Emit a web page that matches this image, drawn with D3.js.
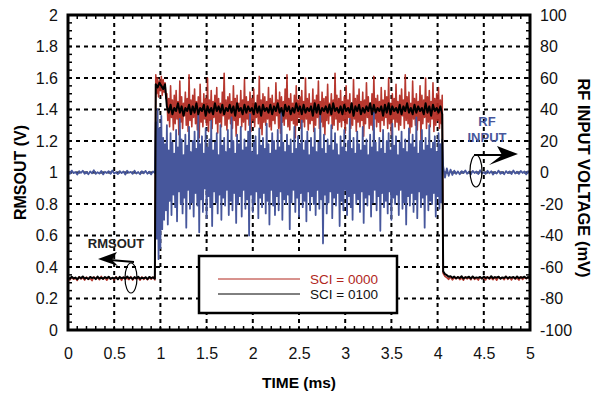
<!DOCTYPE html>
<html>
<head>
<meta charset="utf-8">
<script src="https://cdn.jsdelivr.net/npm/d3@7"></script>
<style>
  body { margin: 0; background: #fff; }
  svg { display: block; font-family: "Liberation Sans", Arial, Helvetica, sans-serif; }
</style>
</head>
<body>
<svg id="chart" width="592" height="396"></svg>
<script>
var width = 592, height = 396

// tick labels
var timeTicks = [0, 0.5, 1, 1.5, 2, 2.5, 3, 3.5, 4, 4.5, 5]
var rmsTicks = [0, 0.2, 0.4, 0.6, 0.8, 1, 1.2, 1.4, 1.6, 1.8, 2]
var rfTicks = [-100, -80, -60, -40, -20, 0, 20, 40, 60, 80, 100]

// time spans (ms): idle before burst, burst, idle after burst
var spanBefore = [0, 0.94]
var spanBurst = [0.95, 4.05]
var spanAfter = [4.06, 5]

// RF INPUT (mV), idle parts
var rfBefore = [0.6, -0.9, 1.2, -0.4, 0.3, -1.3, 0.9, -0.2, 1.1, -0.8, 0.4, -1.1, 0.7, -0.5, 1.4, -0.9,
  0.2, -0.7, 1.0, -1.2, 0.5, -0.3, 0.8, -0.8, 1.3, -0.6, 0.1, -1.0, 0.9, -0.4, 0.6, -1.3,
  1.1, -0.2, 0.4, -0.9, 1.2, -0.7, 0.3, -1.1, 0.8, -0.5, 1.0, -0.8, 0.5, -1.2, 0.7, -0.4]
var rfAfter = [4.0, -3.2, 2.6, -2.1, 1.8, -1.6, 1.2, -0.9, 0.7, -1.1, 0.9, -0.4, 1.3, -0.8, 0.5, -1.2,
  1.0, -0.3, 0.6, -1.0, 1.4, -0.7, 0.2, -0.9, 1.1, -0.5, 0.8, -1.3, 0.4, -0.6, 1.2, -0.8,
  0.3, -1.1, 0.9, -0.4, 0.7, -1.0, 1.3, -0.6, 0.5, -0.9, 1.0, -0.3, 0.6, -1.2, 0.8, -0.5]
// RF INPUT (mV) during burst: positive and negative peaks
var rfPeakHi = [32, 40, 28, 36, 22, 18, 30, 14, 25, 19, 12, 27, 16, 34, 21, 11, 24, 17, 29, 13,
  20, 26, 15, 38, 18, 23, 12, 28, 16, 21, 33, 14, 19, 25, 11, 30, 17, 22, 13, 27,
  15, 35, 20, 12, 24, 18, 29, 14, 21, 16, 26, 37, 13, 19, 23, 11, 28, 17, 22, 15,
  31, 18, 12, 25, 20, 14, 27, 16, 40, 19, 13, 24, 17, 21, 12, 29, 15, 23, 18, 33,
  14, 20, 26, 11, 22, 16, 28, 13, 19, 36, 15, 24, 12, 21, 17, 30, 14, 25, 18, 11,
  23, 16, 27, 13, 20, 34, 15, 22, 12, 26, 18, 14, 29, 17, 21, 11, 24, 16, 38, 19,
  13, 22, 15, 27, 12, 20, 25, 14, 31, 17, 23, 11, 19, 26, 15, 21, 13, 28, 18, 24,
  16, 35, 12, 20, 27, 14, 22, 17, 30, 15, 19, 23, 13, 25, 18, 21]
var rfPeakLo = [-42, -55, -48, -36, -30, -24, -33, -18, -27, -14, -22, -31, -12, -20, -26, -16, -35, -11, -23, -19,
  -28, -13, -21, -38, -17, -25, -10, -29, -15, -22, -34, -12, -19, -26, -14, -30, -16, -21, -11, -27,
  -18, -24, -13, -32, -20, -15, -28, -11, -23, -17, -40, -14, -25, -19, -12, -29, -16, -22, -13, -26,
  -18, -33, -11, -21, -27, -15, -24, -12, -30, -17, -20, -14, -36, -19, -11, -25, -16, -28, -13, -22,
  -18, -31, -12, -24, -15, -20, -27, -11, -23, -17, -45, -14, -26, -19, -12, -29, -16, -21, -13, -34,
  -18, -24, -11, -27, -15, -22, -30, -13, -20, -17, -25, -12, -32, -16, -21, -14, -28, -19, -11, -24,
  -15, -37, -13, -22, -18, -26, -12, -30, -16, -20, -14, -27, -11, -23, -19, -33, -15, -21, -13, -25,
  -17, -29, -12, -22, -16, -35, -14, -24, -18, -20, -13, -28, -15, -23, -19, -26]

// RMSOUT (V), SCI = 0000
var sci0Before = [0.328, 0.318, 0.335, 0.322, 0.33, 0.315, 0.338, 0.324, 0.332, 0.317, 0.336, 0.321, 0.329, 0.314, 0.337, 0.325,
  0.333, 0.319, 0.34, 0.323, 0.331, 0.316, 0.335, 0.326, 0.33, 0.318, 0.338, 0.322, 0.334, 0.315, 0.336, 0.324,
  0.329, 0.32, 0.339, 0.317, 0.333, 0.325, 0.331, 0.316, 0.337, 0.321, 0.334, 0.319, 0.332, 0.323, 0.336, 0.318]
var sci0Hi = [1.62, 1.60, 1.58, 1.61, 1.59, 1.57, 1.50, 1.47, 1.55, 1.46, 1.49, 1.52, 1.45, 1.58, 1.48, 1.44, 1.51, 1.47, 1.62, 1.46,
  1.49, 1.53, 1.45, 1.48, 1.56, 1.44, 1.50, 1.47, 1.60, 1.46, 1.52, 1.45, 1.49, 1.54, 1.47, 1.44, 1.51, 1.63, 1.46, 1.48,
  1.50, 1.45, 1.55, 1.47, 1.49, 1.44, 1.52, 1.46, 1.59, 1.48, 1.45, 1.51, 1.47, 1.53, 1.44, 1.49, 1.61, 1.46, 1.50, 1.48,
  1.45, 1.54, 1.47, 1.49, 1.44, 1.57, 1.46, 1.51, 1.48, 1.45, 1.53, 1.62, 1.47, 1.50, 1.44, 1.49, 1.55, 1.46, 1.48, 1.52,
  1.45, 1.60, 1.47, 1.50, 1.44, 1.53, 1.46, 1.49, 1.58, 1.45, 1.51, 1.47, 1.48, 1.56, 1.44, 1.50, 1.46, 1.63, 1.49, 1.47,
  1.52, 1.45, 1.48, 1.55, 1.46, 1.50, 1.44, 1.59, 1.47, 1.49, 1.53, 1.45, 1.51, 1.46, 1.57, 1.48, 1.44, 1.50, 1.61, 1.47,
  1.49, 1.45, 1.54, 1.46, 1.52, 1.48, 1.60, 1.44, 1.50, 1.47, 1.56, 1.45, 1.49, 1.53, 1.46, 1.62, 1.48, 1.51, 1.44, 1.58,
  1.47, 1.50, 1.45, 1.55, 1.49, 1.46, 1.60, 1.48, 1.52, 1.45, 1.57, 1.47, 1.50, 1.54, 1.46, 1.49]
var sci0Lo = [1.50, 1.48, 1.52, 1.49, 1.51, 1.47, 1.33, 1.29, 1.35, 1.27, 1.31, 1.34, 1.24, 1.32, 1.28, 1.36, 1.30, 1.26, 1.33, 1.29,
  1.35, 1.31, 1.27, 1.22, 1.32, 1.29, 1.34, 1.30, 1.26, 1.33, 1.28, 1.35, 1.31, 1.25, 1.32, 1.29, 1.36, 1.30, 1.27, 1.34,
  1.31, 1.28, 1.33, 1.23, 1.30, 1.35, 1.29, 1.32, 1.27, 1.34, 1.30, 1.26, 1.33, 1.29, 1.35, 1.31, 1.28, 1.24, 1.32, 1.30,
  1.34, 1.29, 1.27, 1.33, 1.31, 1.36, 1.28, 1.25, 1.32, 1.30, 1.34, 1.29, 1.27, 1.33, 1.31, 1.22, 1.30, 1.35, 1.28, 1.32,
  1.29, 1.34, 1.27, 1.31, 1.33, 1.26, 1.30, 1.35, 1.28, 1.32, 1.29, 1.24, 1.33, 1.31, 1.36, 1.28, 1.30, 1.34, 1.27, 1.32,
  1.29, 1.33, 1.25, 1.31, 1.35, 1.28, 1.30, 1.34, 1.26, 1.32, 1.29, 1.33, 1.23, 1.31, 1.35, 1.28, 1.30, 1.27, 1.34, 1.29,
  1.32, 1.26, 1.33, 1.30, 1.35, 1.28, 1.31, 1.24, 1.34, 1.29, 1.32, 1.27, 1.30, 1.36, 1.28, 1.33, 1.31, 1.25, 1.29, 1.34,
  1.30, 1.27, 1.33, 1.21, 1.31, 1.35, 1.28, 1.32, 1.29, 1.34, 1.26, 1.30, 1.33, 1.28, 1.31, 1.32]
var sci0After = [0.36, 0.34, 0.332, 0.322, 0.336, 0.318, 0.333, 0.325, 0.338, 0.32, 0.331, 0.316, 0.337, 0.324, 0.334, 0.319,
  0.339, 0.322, 0.33, 0.317, 0.336, 0.326, 0.333, 0.318, 0.338, 0.323, 0.331, 0.32, 0.335, 0.316, 0.337, 0.325,
  0.332, 0.319, 0.34, 0.322, 0.334, 0.318, 0.336, 0.324, 0.33, 0.317, 0.338, 0.321, 0.333, 0.326, 0.335, 0.32]

// RMSOUT (V), SCI = 0100
var sci1Before = [0.335, 0.325, 0.338, 0.328, 0.333, 0.322, 0.336, 0.329, 0.34, 0.326, 0.332, 0.324, 0.337, 0.33, 0.334, 0.323,
  0.339, 0.327, 0.333, 0.325, 0.336, 0.329, 0.338, 0.324, 0.332, 0.327, 0.335, 0.322, 0.337, 0.328, 0.334, 0.326,
  0.339, 0.329, 0.333, 0.324, 0.336, 0.327, 0.338, 0.325, 0.332, 0.328, 0.335, 0.323, 0.337, 0.329, 0.334, 0.326]
var sci1Burst = [1.56, 1.54, 1.57, 1.55, 1.53, 1.56, 1.42, 1.38, 1.43, 1.37, 1.41, 1.39, 1.44, 1.38, 1.42, 1.36, 1.41, 1.39, 1.43, 1.37,
  1.42, 1.38, 1.44, 1.37, 1.41, 1.39, 1.43, 1.36, 1.42, 1.38, 1.41, 1.37, 1.44, 1.39, 1.42, 1.38, 1.43, 1.37, 1.41, 1.39,
  1.43, 1.38, 1.42, 1.36, 1.44, 1.39, 1.41, 1.37, 1.43, 1.38, 1.42, 1.39, 1.41, 1.37, 1.44, 1.38, 1.42, 1.36, 1.43, 1.39,
  1.41, 1.38, 1.43, 1.37, 1.42, 1.39, 1.44, 1.38, 1.41, 1.36, 1.43, 1.39, 1.42, 1.37, 1.41, 1.38, 1.44, 1.39, 1.42, 1.37,
  1.43, 1.38, 1.41, 1.39, 1.42, 1.36, 1.44, 1.38, 1.43, 1.37, 1.41, 1.39, 1.42, 1.38, 1.43, 1.37, 1.44, 1.39, 1.41, 1.38,
  1.42, 1.37, 1.43, 1.39, 1.41, 1.38, 1.44, 1.36, 1.42, 1.39, 1.43, 1.37, 1.41, 1.38, 1.42, 1.39, 1.44, 1.37, 1.43, 1.38,
  1.41, 1.39, 1.42, 1.36, 1.43, 1.38, 1.44, 1.37, 1.42, 1.39, 1.41, 1.38, 1.43, 1.37, 1.42, 1.39, 1.44, 1.38, 1.41, 1.37,
  1.43, 1.38, 1.42, 1.39, 1.41, 1.37, 1.44, 1.38, 1.42, 1.36, 1.43, 1.39, 1.41, 1.38, 1.42, 1.37]
var sci1After = [0.372, 0.355, 0.348, 0.338, 0.342, 0.331, 0.339, 0.328, 0.336, 0.33, 0.341, 0.327, 0.335, 0.332, 0.338, 0.326,
  0.34, 0.329, 0.334, 0.331, 0.337, 0.327, 0.339, 0.33, 0.335, 0.328, 0.341, 0.329, 0.336, 0.332, 0.338, 0.326,
  0.334, 0.33, 0.339, 0.328, 0.336, 0.331, 0.337, 0.327, 0.34, 0.329, 0.335, 0.332, 0.338, 0.328, 0.336, 0.33]

var legendNames = ["SCI = 0000", "SCI = 0100"]
var red = "#b1271d", blue = "#47579c"

var plotL = 68, plotR = 530, plotT = 15, plotB = 330

var x = d3.scaleLinear().domain([0, 5]).range([plotL, plotR])
var yL = d3.scaleLinear().domain([0, 2]).range([plotB, plotT])
var yR = d3.scaleLinear().domain([-100, 100]).range([plotB, plotT])

var svg = d3.select('#chart')

// sample values evenly across a time span
function spread(span, vals) {
  var n = vals.length
  return vals.map((v, i) => ({t: span[0] + (span[1] - span[0]) * i / (n - 1), v: v}))
}

// alternate positive and negative peaks along the span
function zigzag(span, hi, lo) {
  var n = hi.length, dt = (span[1] - span[0]) / (n - 1), out = []
  for (var i = 0; i < n; i++) {
    out.push({t: span[0] + dt * i, v: hi[i]})
    if (i < n - 1) out.push({t: span[0] + dt * (i + 0.5), v: lo[i]})
  }
  return out
}

var rfData = spread(spanBefore, rfBefore).concat(zigzag(spanBurst, rfPeakHi, rfPeakLo), spread(spanAfter, rfAfter))
var sci0Data = spread(spanBefore, sci0Before).concat(zigzag(spanBurst, sci0Hi, sci0Lo), spread(spanAfter, sci0After))
var sci1Data = spread(spanBefore, sci1Before).concat(spread(spanBurst, sci1Burst), spread(spanAfter, sci1After))

// grid
var grid = svg.append('g')
  .attr('stroke', '#000').attr('stroke-width', 2).attr('stroke-dasharray', '4,4')
grid.selectAll('.vg').data(timeTicks.slice(1, -1)).enter().append('line')
  .attr('x1', d => x(d)).attr('x2', d => x(d)).attr('y1', plotT).attr('y2', plotB)
grid.selectAll('.hg').data(rmsTicks.slice(1, -1)).enter().append('line')
  .attr('y1', d => yL(d)).attr('y2', d => yL(d)).attr('x1', plotL).attr('x2', plotR)

// minor ticks inside the frame
var minor = svg.append('g').attr('stroke', '#000').attr('stroke-width', 1.5)
var vMinor = d3.range(0, 2.001, 0.05)
var hMinor = d3.range(0, 5.001, 0.1)
minor.selectAll('.ml').data(vMinor).enter().append('line')
  .attr('x1', plotL).attr('x2', plotL + 4).attr('y1', d => yL(d)).attr('y2', d => yL(d))
minor.selectAll('.mr').data(vMinor).enter().append('line')
  .attr('x1', plotR - 4).attr('x2', plotR).attr('y1', d => yL(d)).attr('y2', d => yL(d))
minor.selectAll('.mt').data(hMinor).enter().append('line')
  .attr('y1', plotT).attr('y2', plotT + 4).attr('x1', d => x(d)).attr('x2', d => x(d))
minor.selectAll('.mb').data(hMinor).enter().append('line')
  .attr('y1', plotB - 4).attr('y2', plotB).attr('x1', d => x(d)).attr('x2', d => x(d))

// traces
svg.append('clipPath').attr('id', 'clip').append('rect')
  .attr('x', plotL).attr('y', plotT).attr('width', plotR - plotL).attr('height', plotB - plotT)
var traces = svg.append('g').attr('clip-path', 'url(#clip)').attr('fill', 'none')
  .attr('stroke-linejoin', 'round')

var lineRms = d3.line().x(d => x(d.t)).y(d => yL(d.v))
var lineRf = d3.line().x(d => x(d.t)).y(d => yR(d.v))

traces.append('path').datum(sci0Data).attr('d', lineRms)
  .attr('stroke', red).attr('stroke-width', 1.6).attr('stroke-opacity', 0.92)
traces.append('path').datum(rfData).attr('d', lineRf)
  .attr('stroke', blue).attr('stroke-width', 1.8)
traces.append('path').datum(sci1Data).attr('d', lineRms)
  .attr('stroke', '#000').attr('stroke-width', 2)

// axes
function styleAxis(g) {
  g.select('.domain').remove()
  g.selectAll('.tick line').remove()
  g.selectAll('text').attr('font-size', 16).attr('fill', '#111')
    .attr('font-family', '"Liberation Sans", Arial, sans-serif')
}
svg.append('g').attr('transform', 'translate(' + plotL + ',0)')
  .call(d3.axisLeft(yL).tickValues(rmsTicks).tickSize(0).tickPadding(10).tickFormat(d => String(d)))
  .call(styleAxis)
svg.append('g').attr('transform', 'translate(' + plotR + ',0)')
  .call(d3.axisRight(yR).tickValues(rfTicks).tickSize(0).tickPadding(10).tickFormat(d => String(d)))
  .call(styleAxis)
svg.append('g').attr('transform', 'translate(0,' + plotB + ')')
  .call(d3.axisBottom(x).tickValues(timeTicks).tickSize(0).tickPadding(18).tickFormat(d => String(d)))
  .call(styleAxis)

// frame
svg.append('rect').attr('x', plotL).attr('y', plotT).attr('width', plotR - plotL).attr('height', plotB - plotT)
  .attr('fill', 'none').attr('stroke', '#000').attr('stroke-width', 3)

// axis titles
svg.append('text').attr('x', (plotL + plotR) / 2).attr('y', 388).attr('text-anchor', 'middle')
  .attr('font-weight', 'bold').attr('font-size', 15.5).text('TIME (ms)')
svg.append('text').attr('transform', 'translate(26,' + (plotT + plotB) / 2 + ') rotate(-90)')
  .attr('text-anchor', 'middle').attr('font-weight', 'bold').attr('font-size', 16).text('RMSOUT (V)')
svg.append('text').attr('transform', 'translate(578,178) rotate(90)')
  .attr('text-anchor', 'middle').attr('font-weight', 'bold').attr('font-size', 16.5).text('RF INPUT VOLTAGE (mV)')

// legend
var lg = svg.append('g')
lg.append('rect').attr('x', 199).attr('y', 256).attr('width', 198).attr('height', 57)
  .attr('fill', '#fff').attr('stroke', '#000').attr('stroke-width', 2.5)
lg.selectAll('line').data(legendNames).enter().append('line')
  .attr('x1', 218).attr('x2', 300).attr('y1', (d, i) => 279 + i * 15).attr('y2', (d, i) => 279 + i * 15)
  .attr('stroke', (d, i) => i ? '#000' : red).attr('stroke-width', 1)
lg.selectAll('text').data(legendNames).enter().append('text')
  .attr('x', 310).attr('y', (d, i) => 283.5 + i * 15).attr('font-size', 13.5)
  .attr('fill', (d, i) => i ? '#111' : red).text(d => d)

// annotations
var ann = svg.append('g')
ann.append('text').attr('x', 116).attr('y', 248).attr('text-anchor', 'middle')
  .attr('font-weight', 'bold').attr('font-size', 13).attr('fill', '#222').text('RMSOUT')
ann.append('ellipse').attr('cx', 131).attr('cy', 278).attr('rx', 6).attr('ry', 15)
  .attr('fill', 'none').attr('stroke', '#000').attr('stroke-width', 1.2)
ann.append('line').attr('x1', 134).attr('x2', 110).attr('y1', 262).attr('y2', 260)
  .attr('stroke', '#000').attr('stroke-width', 2)
ann.append('path').attr('d', 'M98,259 L117,252 L112,260 L118,266 Z').attr('fill', '#000')

ann.append('text').attr('x', 487).attr('y', 126).attr('text-anchor', 'middle')
  .attr('font-weight', 'bold').attr('font-size', 13).attr('fill', blue).text('RF')
ann.append('text').attr('x', 487).attr('y', 142).attr('text-anchor', 'middle')
  .attr('font-weight', 'bold').attr('font-size', 13).attr('fill', blue).text('INPUT')
ann.append('ellipse').attr('cx', 476).attr('cy', 171).attr('rx', 6).attr('ry', 16)
  .attr('fill', 'none').attr('stroke', '#000').attr('stroke-width', 1.2)
ann.append('line').attr('x1', 474).attr('x2', 502).attr('y1', 155).attr('y2', 155)
  .attr('stroke', '#000').attr('stroke-width', 2)
ann.append('path').attr('d', 'M518,154 L497,146 L502,155 L489,165 Z').attr('fill', '#000')
</script>
</body>
</html>
